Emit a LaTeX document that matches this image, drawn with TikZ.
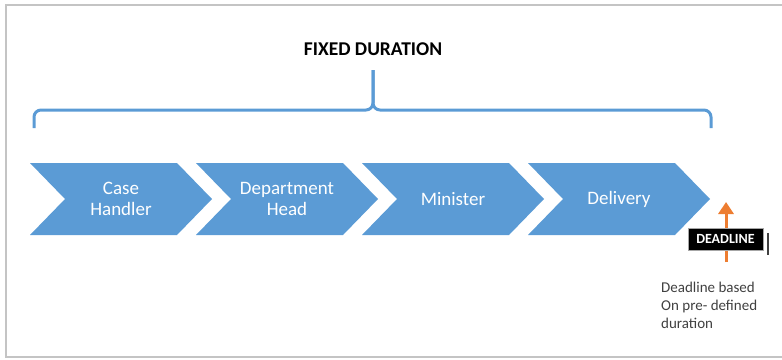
\documentclass[tikz,border=0pt]{standalone}
\usepackage{fontspec}
\setmainfont{Carlito}
\usetikzlibrary{arrows.meta}
\definecolor{chevblue}{HTML}{5B9BD5}
\definecolor{deadorange}{HTML}{ED7D31}
\definecolor{framegray}{HTML}{C4C4C4}
\definecolor{notegray}{HTML}{404040}
\begin{document}
\begin{tikzpicture}[x=1pt,y=-1pt,
  chev/.style={fill=chevblue},
  chevtext/.style={text=white, align=center, font=\fontsize{19}{21}\selectfont, inner sep=0pt},
  bracket/.style={draw=chevblue, line width=3pt, rounded corners=7pt},
  titletext/.style={font=\bfseries\fontsize{19.5}{22}\selectfont, inner sep=0pt},
  deadbox/.style={fill=black, draw=gray!70, line width=0.8pt, text=white, font=\bfseries\fontsize{14}{16}\selectfont, minimum width=75pt, minimum height=22pt, inner sep=0pt},
  deadarrow/.style={draw=deadorange, line width=3pt, -{Triangle[width=15pt,length=12pt]}},
  notetext/.style={text=notegray, align=left, font=\fontsize{15}{18}\selectfont, inner sep=0pt}]
\useasboundingbox (0,0) rectangle (782,359);
% frame
\draw[framegray, line width=1.5pt] (782,5) -- (6,5) -- (6,357) -- (782,357);
% chevrons
\foreach \i in {0,1,2,3} {
  \fill[chev] ({30+166*\i},163) -- ({177+166*\i},163) -- ({212+166*\i},199)
     -- ({177+166*\i},235) -- ({30+166*\i},235) -- ({65+166*\i},199) -- cycle;
}
\node[chevtext] (c1) at (121,199) {Case\\Handler};
\node[chevtext] (c2) at (287,199) {Department\\Head};
\node[chevtext] (c3) at (453,199) {Minister};
\node[chevtext] (c4) at (619,199) {Delivery};
% bracket
\coordinate (bl) at (34,128);
\coordinate (br) at (711,128);
\coordinate (bm) at (373,110);
\coordinate (bt) at (373,70);
\draw[bracket] (bl) |- (bm) -- (bt);
\draw[bracket] (br) |- (bm) -- (bt);
\node[titletext] (title) at (373,49.5) {FIXED DURATION};
% deadline
\coordinate (abot) at (726,262);
\coordinate (atop) at (726,202);
\draw[deadarrow] (abot) -- (atop);
\node[deadbox] (dl) at (725.5,239) {DEADLINE};
\coordinate (vt) at (768,233);
\coordinate (vb) at (768,255);
\draw[notegray, line width=1.2pt] (vt) -- (vb);
\node[notetext, anchor=north west] (note) at (661,282) {Deadline based\\On pre- defined\\duration};
\end{tikzpicture}
\end{document}
